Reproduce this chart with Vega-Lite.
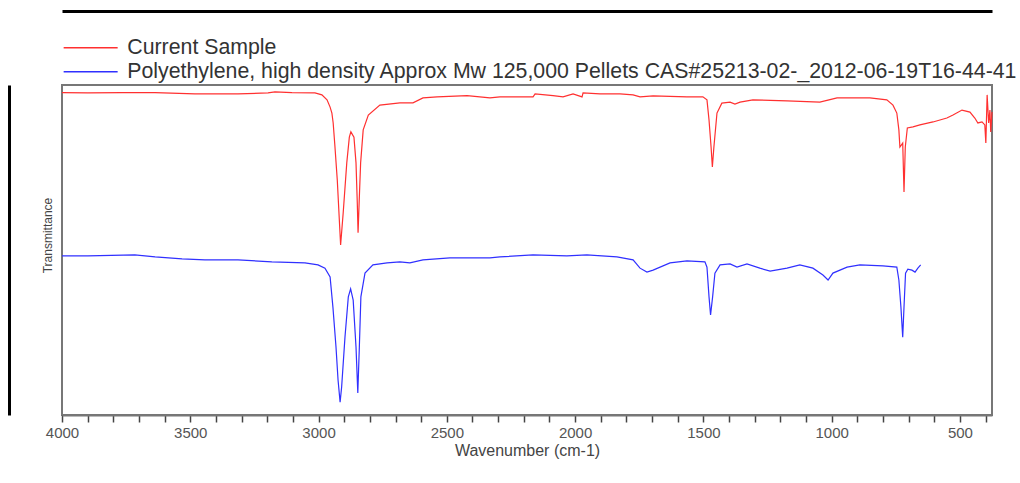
{
  "$schema": "https://vega.github.io/schema/vega-lite/v6.json",
  "width": 930,
  "height": 330,
  "autosize": {"type": "none"},
  "padding": {"left": 62, "top": 85, "right": 28, "bottom": 68},
  "background": "white",
  "config": {
    "font": "Liberation Sans",
    "view": {"stroke": "#777777", "strokeWidth": 2}
  },
  "datasets": {
    "red": [
      {"wn": 4000, "T": 97.7}, {"wn": 3899, "T": 97.6}, {"wn": 3766, "T": 97.7}, {"wn": 3637, "T": 97.7},
      {"wn": 3482, "T": 97.3}, {"wn": 3314, "T": 97.3}, {"wn": 3197, "T": 97.6}, {"wn": 3170, "T": 97.9},
      {"wn": 3104, "T": 97.7}, {"wn": 3014, "T": 97.6}, {"wn": 2987, "T": 97.0}, {"wn": 2967, "T": 95.5},
      {"wn": 2955, "T": 93.3}, {"wn": 2948, "T": 91.5}, {"wn": 2943, "T": 88.5}, {"wn": 2936, "T": 81.2},
      {"wn": 2927, "T": 71.2}, {"wn": 2919, "T": 59.1}, {"wn": 2914, "T": 51.5}, {"wn": 2904, "T": 61.2},
      {"wn": 2890, "T": 76.4}, {"wn": 2880, "T": 84.2}, {"wn": 2874, "T": 85.8}, {"wn": 2862, "T": 84.2},
      {"wn": 2854, "T": 76.4}, {"wn": 2849, "T": 64.2}, {"wn": 2846, "T": 55.2}, {"wn": 2841, "T": 66.1},
      {"wn": 2836, "T": 76.4}, {"wn": 2826, "T": 86.4}, {"wn": 2806, "T": 90.9}, {"wn": 2761, "T": 93.9},
      {"wn": 2683, "T": 94.6}, {"wn": 2632, "T": 94.6}, {"wn": 2593, "T": 96.1}, {"wn": 2538, "T": 96.4},
      {"wn": 2421, "T": 96.8}, {"wn": 2332, "T": 96.1}, {"wn": 2293, "T": 96.4}, {"wn": 2164, "T": 96.4},
      {"wn": 2156, "T": 97.3}, {"wn": 2086, "T": 96.8}, {"wn": 2047, "T": 96.4}, {"wn": 2008, "T": 97.3},
      {"wn": 1973, "T": 96.4}, {"wn": 1969, "T": 97.6}, {"wn": 1903, "T": 97.3}, {"wn": 1825, "T": 97.3},
      {"wn": 1774, "T": 97.0}, {"wn": 1747, "T": 96.4}, {"wn": 1696, "T": 96.7}, {"wn": 1564, "T": 96.4},
      {"wn": 1502, "T": 96.4}, {"wn": 1486, "T": 95.5}, {"wn": 1478, "T": 89.4}, {"wn": 1470, "T": 81.2},
      {"wn": 1465, "T": 75.2}, {"wn": 1459, "T": 81.2}, {"wn": 1447, "T": 91.5}, {"wn": 1428, "T": 94.5},
      {"wn": 1396, "T": 94.8}, {"wn": 1377, "T": 94.2}, {"wn": 1357, "T": 94.8}, {"wn": 1307, "T": 95.5},
      {"wn": 1174, "T": 95.2}, {"wn": 1046, "T": 94.8}, {"wn": 979, "T": 96.1}, {"wn": 851, "T": 96.1},
      {"wn": 785, "T": 95.5}, {"wn": 761, "T": 93.9}, {"wn": 746, "T": 91.5}, {"wn": 738, "T": 86.4},
      {"wn": 734, "T": 81.2}, {"wn": 723, "T": 82.4}, {"wn": 718, "T": 67.6}, {"wn": 713, "T": 81.2},
      {"wn": 705, "T": 87.0}, {"wn": 683, "T": 87.3}, {"wn": 656, "T": 87.9}, {"wn": 605, "T": 88.8},
      {"wn": 551, "T": 90.0}, {"wn": 527, "T": 90.9}, {"wn": 492, "T": 92.4}, {"wn": 461, "T": 91.8},
      {"wn": 442, "T": 90.0}, {"wn": 430, "T": 88.5}, {"wn": 414, "T": 88.8}, {"wn": 403, "T": 87.9},
      {"wn": 399, "T": 82.4}, {"wn": 394, "T": 97.0}, {"wn": 388, "T": 88.5}, {"wn": 383, "T": 92.4},
      {"wn": 380, "T": 85.8}, {"wn": 375, "T": 91.8}
    ],
    "blue": [
      {"wn": 4000, "T": 48.2}, {"wn": 3899, "T": 48.2}, {"wn": 3716, "T": 48.5}, {"wn": 3637, "T": 47.9},
      {"wn": 3532, "T": 47.3}, {"wn": 3443, "T": 47.0}, {"wn": 3314, "T": 47.0}, {"wn": 3182, "T": 46.4},
      {"wn": 3053, "T": 46.1}, {"wn": 3002, "T": 45.5}, {"wn": 2975, "T": 44.5}, {"wn": 2955, "T": 41.8},
      {"wn": 2944, "T": 32.7}, {"wn": 2932, "T": 20.6}, {"wn": 2924, "T": 10.6}, {"wn": 2916, "T": 3.9},
      {"wn": 2910, "T": 8.5}, {"wn": 2897, "T": 23.6}, {"wn": 2884, "T": 35.8}, {"wn": 2875, "T": 38.2},
      {"wn": 2865, "T": 34.8}, {"wn": 2854, "T": 20.6}, {"wn": 2847, "T": 6.7}, {"wn": 2841, "T": 20.6},
      {"wn": 2835, "T": 35.8}, {"wn": 2819, "T": 43.0}, {"wn": 2788, "T": 45.5}, {"wn": 2733, "T": 46.1},
      {"wn": 2683, "T": 46.4}, {"wn": 2644, "T": 46.1}, {"wn": 2593, "T": 47.0}, {"wn": 2488, "T": 47.6},
      {"wn": 2332, "T": 47.6}, {"wn": 2293, "T": 47.9}, {"wn": 2164, "T": 48.5}, {"wn": 2032, "T": 48.2},
      {"wn": 1954, "T": 48.5}, {"wn": 1837, "T": 47.9}, {"wn": 1774, "T": 47.0}, {"wn": 1747, "T": 44.5},
      {"wn": 1720, "T": 43.3}, {"wn": 1696, "T": 43.9}, {"wn": 1630, "T": 46.1}, {"wn": 1564, "T": 46.7},
      {"wn": 1494, "T": 46.4}, {"wn": 1486, "T": 44.8}, {"wn": 1478, "T": 35.8}, {"wn": 1472, "T": 30.3},
      {"wn": 1464, "T": 35.8}, {"wn": 1455, "T": 43.0}, {"wn": 1435, "T": 45.5}, {"wn": 1396, "T": 45.8},
      {"wn": 1369, "T": 44.8}, {"wn": 1330, "T": 45.8}, {"wn": 1280, "T": 44.5}, {"wn": 1240, "T": 43.6},
      {"wn": 1174, "T": 44.5}, {"wn": 1124, "T": 45.5}, {"wn": 1073, "T": 44.5}, {"wn": 1034, "T": 42.4},
      {"wn": 1014, "T": 40.9}, {"wn": 995, "T": 43.0}, {"wn": 940, "T": 44.8}, {"wn": 890, "T": 45.5},
      {"wn": 800, "T": 45.2}, {"wn": 746, "T": 44.8}, {"wn": 738, "T": 40.9}, {"wn": 730, "T": 32.7},
      {"wn": 723, "T": 23.6}, {"wn": 718, "T": 32.7}, {"wn": 712, "T": 43.0}, {"wn": 703, "T": 44.2},
      {"wn": 687, "T": 43.9}, {"wn": 675, "T": 43.3}, {"wn": 664, "T": 44.5}, {"wn": 653, "T": 45.5}
    ]
  },
  "resolve": {"axis": {"x": "independent", "y": "independent"}},
  "layer": [
    {
      "data": {"name": "red"},
      "transform": [{"calculate": "'Current Sample'", "as": "series"}],
      "mark": {"type": "line", "strokeWidth": 1.2},
      "encoding": {
        "x": {
          "field": "wn", "type": "quantitative",
          "scale": {"domain": [4000, 375], "nice": false, "zero": false},
          "axis": {
            "orient": "bottom",
            "title": "Wavenumber (cm-1)",
            "titleFontSize": 16, "titleFontWeight": "normal", "titleColor": "#444444", "titlePadding": 2,
            "values": [4000,3900,3800,3700,3600,3500,3400,3300,3200,3100,3000,2900,2800,2700,2600,2500,2400,2300,2200,2100,2000,1900,1800,1700,1600,1500,1400,1300,1200,1100,1000,900,800,700,600,500,400],
            "format": "d",
            "labelExpr": "datum.value % 500 == 0 ? datum.label : ''",
            "labelOverlap": false, "labelFlush": false,
            "labelFontSize": 15, "labelColor": "#555555", "labelPadding": 3,
            "domain": true, "domainColor": "#777777", "domainWidth": 2,
            "ticks": true, "tickSize": 7, "tickColor": "#444444", "tickWidth": 1.5,
            "grid": false
          }
        },
        "y": {
          "field": "T", "type": "quantitative",
          "scale": {"domain": [0, 100], "nice": false},
          "axis": {
            "orient": "left",
            "title": "Transmittance", "titleFontSize": 12, "titleFontWeight": "normal", "titleColor": "#444444",
            "titlePadding": 8, "titleY": 150, "domain": false, "ticks": false, "labels": false, "grid": false
          }
        },
        "color": {
          "field": "series", "type": "nominal",
          "scale": {
            "domain": ["Current Sample", "Polyethylene, high density Approx Mw 125,000 Pellets CAS#25213-02-_2012-06-19T16-44-41"],
            "range": ["#ff3030", "#3030ff"]
          },
          "legend": {
            "title": null, "orient": "none", "legendX": 18, "legendY": -48,
            "padding": 0, "symbolType": "M-4.5,0H4.5", "symbolSize": 144, "symbolStrokeWidth": 1.5,
            "labelFontSize": 21.3, "labelColor": "#333333", "labelOffset": 26, "rowPadding": 2,
            "labelLimit": 1000
          }
        }
      }
    },
    {
      "data": {"name": "blue"},
      "transform": [{"calculate": "'Polyethylene, high density Approx Mw 125,000 Pellets CAS#25213-02-_2012-06-19T16-44-41'", "as": "series"}],
      "mark": {"type": "line", "strokeWidth": 1.2},
      "encoding": {
        "x": {
          "field": "wn", "type": "quantitative",
          "axis": {
            "orient": "top", "offset": 74, "title": null, "labels": false, "ticks": false, "grid": false,
            "domain": true, "domainColor": "#000000", "domainWidth": 3
          }
        },
        "y": {
          "field": "T", "type": "quantitative",
          "axis": {
            "orient": "left", "offset": 53, "title": null, "labels": false, "ticks": false, "grid": false,
            "domain": true, "domainColor": "#000000", "domainWidth": 3
          }
        },
        "color": {"field": "series", "type": "nominal"}
      }
    }
  ]
}
